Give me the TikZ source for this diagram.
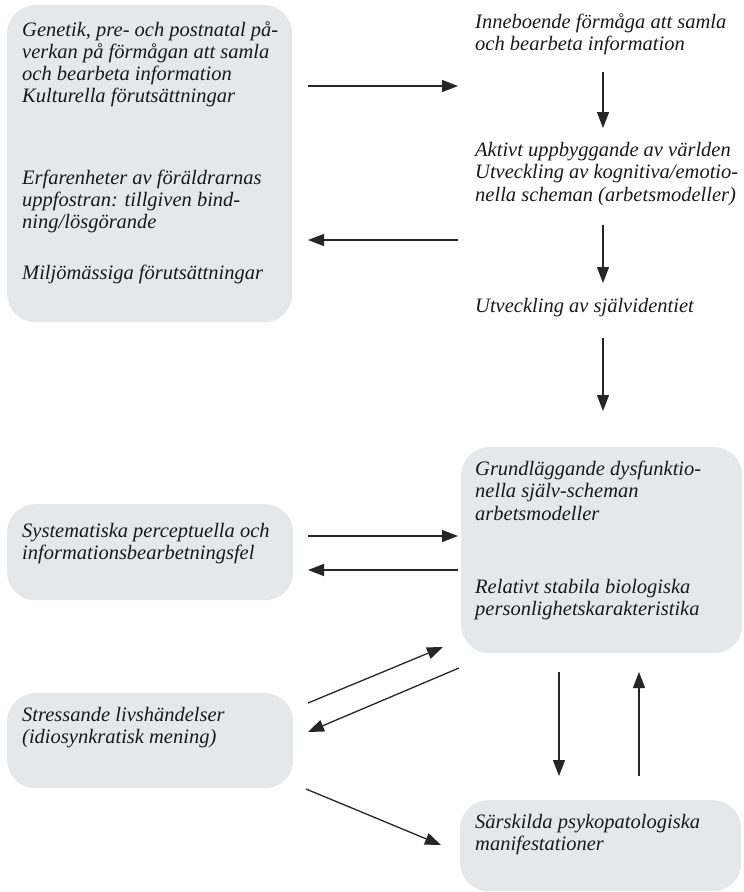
\documentclass[tikz,border=0pt]{standalone}
\usepackage{fontspec}
\setmainfont{Liberation Serif}
\usetikzlibrary{arrows.meta}
\definecolor{boxgray}{RGB}{230,231,233}
\tikzset{
  box/.style={rectangle, rounded corners=28pt, fill=boxgray, anchor=north west, inner sep=0pt},
  txt/.style={anchor=north west, align=left, inner sep=0pt, text=black!90,
    font=\fontsize{20.5}{22.3}\selectfont\itshape, execute at begin node=\strut},
  arr/.style={-{Triangle[length=16pt,width=12pt]}, line width=1.3pt, draw=black!85}
}

\begin{document}
\begin{tikzpicture}[x=1pt,y=-1pt]
\useasboundingbox (0,0) rectangle (744,892);

\node[box, minimum width=285pt, minimum height=317pt] (boxA) at (7,5) {};
\node[box, minimum width=281pt, minimum height=206pt] (boxB) at (461,447) {};
\node[box, minimum width=286pt, minimum height=96pt] (boxC) at (7,504) {};
\node[box, minimum width=286pt, minimum height=95pt] (boxD) at (7,693) {};
\node[box, minimum width=281pt, minimum height=91pt] (boxE) at (460,800) {};

\node[txt] (genetik) at (22,21) {Genetik, pre- och postnatal på-\\verkan på förmågan att samla\\och bearbeta information\\Kulturella förutsättningar};
\node[txt] (erfarenheter) at (22,169.5) {Erfarenheter av föräldrarnas\\uppfostran: tillgiven bind-\\ning/lösgörande};
\node[txt] (miljo) at (22,264) {Miljömässiga förutsättningar};
\node[txt] (inneboende) at (475,13) {Inneboende förmåga att samla\\och bearbeta information};
\node[txt] (aktivt) at (475,142) {Aktivt uppbyggande av världen\\Utveckling av kognitiva/emotio-\\nella scheman (arbetsmodeller)};
\node[txt] (sjalv) at (475,297) {Utveckling av självidentiet};
\node[txt] (grund) at (475,461) {Grundläggande dysfunktio-\\nella själv-scheman\\arbetsmodeller};
\node[txt] (relativt) at (475,579) {Relativt stabila biologiska\\personlighetskarakteristika};
\node[txt] (systematiska) at (22,523) {Systematiska perceptuella och\\informationsbearbetningsfel};
\node[txt] (stressande) at (22,707) {Stressande livshändelser\\(idiosynkratisk mening)};
\node[txt] (sarskilda) at (475,814) {Särskilda psykopatologiska\\manifestationer};

\coordinate (genUt) at (308,86);   \coordinate (genIn) at (458,86);
\coordinate (erfIn) at (308,240);  \coordinate (erfUt) at (458,240);
\coordinate (inneUt) at (603,72);  \coordinate (aktivtIn) at (603,128);
\coordinate (aktivtUt) at (603,225); \coordinate (sjalvIn) at (603,283);
\coordinate (sjalvUt) at (603,338); \coordinate (grundIn) at (603,411);
\coordinate (sysUt) at (308,536);  \coordinate (sysIn) at (458,536);
\coordinate (sysTill) at (308,570); \coordinate (sysFran) at (458,570);
\coordinate (strUt) at (308,703);  \coordinate (strIn) at (443,647);
\coordinate (strFran) at (459,668); \coordinate (strTill) at (308,732);
\coordinate (strNed) at (306,789); \coordinate (sarIn) at (441,845);
\coordinate (grundNed) at (559,672); \coordinate (sarUpp) at (559,776);
\coordinate (sarUt) at (639,776);  \coordinate (grundUpp) at (639,672);

\draw[arr] (genUt) -- (genIn);
\draw[arr] (erfUt) -- (erfIn);
\draw[arr] (inneUt) -- (aktivtIn);
\draw[arr] (aktivtUt) -- (sjalvIn);
\draw[arr] (sjalvUt) -- (grundIn);
\draw[arr] (sysUt) -- (sysIn);
\draw[arr] (sysFran) -- (sysTill);
\draw[arr] (strUt) -- (strIn);
\draw[arr] (strFran) -- (strTill);
\draw[arr] (strNed) -- (sarIn);
\draw[arr] (grundNed) -- (sarUpp);
\draw[arr] (sarUt) -- (grundUpp);
\end{tikzpicture}
\end{document}
